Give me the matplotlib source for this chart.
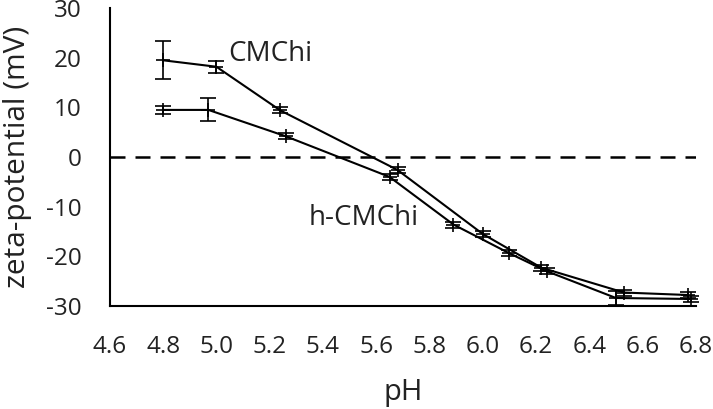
import matplotlib
matplotlib.use("Agg")
import matplotlib.pyplot as plt

# Data
cm_ph = [4.80, 5.00, 5.24, 5.68, 6.00, 6.22, 6.53, 6.77]
cm_zeta = [19.5, 18.2, 9.4, -2.6, -15.5, -22.3, -27.3, -27.8]
cm_err = [3.8, 1.2, 0.6, 0.6, 0.6, 0.6, 0.6, 0.6]

h_ph = [4.80, 4.97, 5.26, 5.65, 5.89, 6.10, 6.24, 6.50, 6.78]
h_zeta = [9.5, 9.5, 4.2, -4.0, -13.6, -19.4, -23.0, -28.4, -28.6]
h_err = [0.8, 2.3, 0.6, 0.6, 0.6, 0.6, 0.6, 1.5, 0.6]

xticks = [4.6, 4.8, 5.0, 5.2, 5.4, 5.6, 5.8, 6.0, 6.2, 6.4, 6.6, 6.8]
yticks = [-30, -20, -10, 0, 10, 20, 30]

plt.rcParams['font.family'] = ['Open Sans', 'DejaVu Sans']
plt.rcParams['axes.unicode_minus'] = False

fig = plt.figure(figsize=(7.13, 4.09), dpi=100)
ax = fig.add_axes([0.154, 0.252, 0.822, 0.728])

ax.axhline(0, color='black', lw=1.8, ls=(0, (6, 4)), zorder=1)

for x, y, e in [(cm_ph, cm_zeta, cm_err), (h_ph, h_zeta, h_err)]:
    ax.errorbar(x, y, yerr=e, color='black', lw=1.5, marker='+', ms=10, mew=1.2,
                capsize=6, elinewidth=1.2, capthick=1.2, zorder=3, clip_on=False)

ax.text(5.045, 20.8, 'CMChi', fontsize=20, ha='left', va='center', color='#222222')
ax.text(5.345, -12.3, 'h-CMChi', fontsize=20, ha='left', va='center', color='#222222')

ax.set_xlim(4.6, 6.8)
ax.set_ylim(-30, 30)
ax.set_xticks(xticks)
ax.set_xticklabels([f'{t:.1f}' for t in xticks])
ax.set_yticks(yticks)
ax.tick_params(axis='both', length=0, labelsize=17.5, colors='#222222')
ax.tick_params(axis='x', pad=21)
ax.tick_params(axis='y', pad=20)

for s in ['top', 'right']:
    ax.spines[s].set_visible(False)
for s in ['left', 'bottom']:
    ax.spines[s].set_linewidth(1.5)

ax.set_xlabel('pH', fontsize=21, color='#222222', va='center')
ax.xaxis.set_label_coords(0.5, -0.29)
ax.set_ylabel('zeta-potential (mV)', fontsize=21.5, color='#222222', va='center')
ax.yaxis.set_label_coords(-0.157, 0.5)

fig.savefig('out.png', dpi=100)
